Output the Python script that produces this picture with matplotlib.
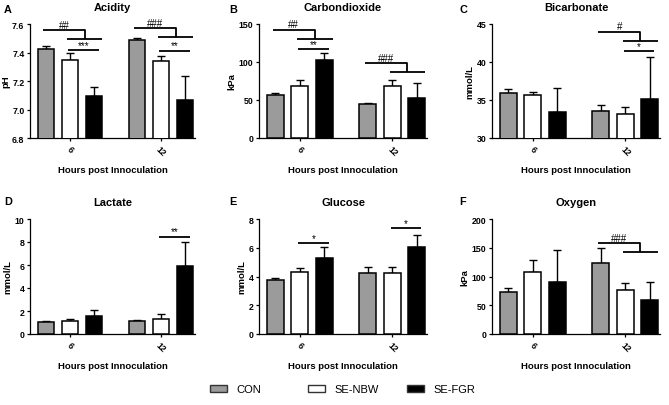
import matplotlib
matplotlib.use("Agg")
import numpy as np
import matplotlib.pyplot as plt
from matplotlib.patches import Patch

plt.rcParams["font.family"] = ["Liberation Sans", "DejaVu Sans"]

# ==============================
# DATA
# ==============================

hours = ["6", "12"]
groups = ["CON", "SE-NBW", "SE-FGR"]
colors = ["#9b9b9b", "#ffffff", "#000000"]

panels = ["A", "B", "C", "D", "E", "F"]
titles = ["Acidity", "Carbondioxide", "Bicarbonate", "Lactate", "Glucose", "Oxygen"]
ylabels = ["pH", "kPa", "mmol/L", "mmol/L", "mmol/L", "kPa"]
yticks = [
    [6.8, 7.0, 7.2, 7.4, 7.6],
    [0, 50, 100, 150],
    [30, 35, 40, 45],
    [0, 2, 4, 6, 8, 10],
    [0, 2, 4, 6, 8],
    [0, 50, 100, 150, 200],
]

# means per panel: rows = hours (6, 12), cols = groups
acidity_mean = [[7.425, 7.35, 7.092], [7.49, 7.338, 7.069]]
acidity_sem = [[0.023, 0.044, 0.064], [0.014, 0.040, 0.164]]
co2_mean = [[56, 69, 102.5], [44.5, 69, 52.5]]
co2_sem = [[3.5, 7, 9], [1.3, 7.5, 19.5]]
bicarb_mean = [[35.9, 35.6, 33.4], [33.5, 33.2, 35.1]]
bicarb_sem = [[0.5, 0.5, 3.2], [0.8, 0.9, 5.6]]
lactate_mean = [[1.07, 1.16, 1.6], [1.16, 1.30, 5.94]]
lactate_sem = [[0.09, 0.12, 0.5], [0.09, 0.44, 2.1]]
glucose_mean = [[3.76, 4.29, 5.29], [4.27, 4.27, 6.03]]
glucose_sem = [[0.16, 0.30, 0.74], [0.39, 0.42, 0.88]]
oxygen_mean = [[72.5, 107, 91], [123, 76, 60]]
oxygen_sem = [[8, 22, 55], [26, 12, 30]]

means = [acidity_mean, co2_mean, bicarb_mean, lactate_mean, glucose_mean, oxygen_mean]
sems = [acidity_sem, co2_sem, bicarb_sem, lactate_sem, glucose_sem, oxygen_sem]

# CON vs infected brackets: (panel, hour index, label, top height, lower height)
hash_marks = [
    (0, 0, "##", 7.558, 7.495),
    (0, 1, "###", 7.57, 7.511),
    (1, 0, "##", 142.5, 130),
    (1, 1, "###", 98.2, 86.4),
    (2, 1, "#", 44.0, 42.8),
    (5, 1, "###", 157.7, 143),
]
# SE-NBW vs SE-FGR lines: (panel, hour index, label, height)
star_marks = [
    (0, 0, "***", 7.417),
    (0, 1, "**", 7.413),
    (1, 0, "**", 117),
    (2, 1, "*", 41.4),
    (3, 1, "**", 8.46),
    (4, 0, "*", 6.33),
    (4, 1, "*", 7.35),
]

# ==============================
# LAYOUT
# ==============================

W, H = 669, 406
col_x = [30, 259, 492]
col_w = [165, 168, 168]
row_y = [(25, 139), (220, 335)]
letter_x = [8, 233, 463]
letter_y = [10, 202]

step = 0.264
bar_w = 0.185
offsets = [-step, 0, step]

fig = plt.figure(figsize=(W / 100, H / 100), dpi=100)
axes = []
for i in range(6):
    r, c = divmod(i, 3)
    top, bot = row_y[r]
    ax = fig.add_axes([col_x[c] / W, 1 - bot / H, col_w[c] / W, (bot - top) / H])
    axes.append(ax)
    fig.text(letter_x[c] / W, 1 - letter_y[r] / H, panels[i], fontsize=7.8,
             fontweight="bold", ha="center", va="center")

for i, ax in enumerate(axes):
    m = np.array(means[i])
    s = np.array(sems[i])
    for g in range(3):
        xs = np.arange(2) + offsets[g]
        ax.errorbar(xs, m[:, g], yerr=[np.zeros(2), s[:, g]], fmt="none",
                    ecolor="black", elinewidth=1.0, capsize=2.8, capthick=1.0, zorder=2)
        ax.bar(xs, m[:, g], width=bar_w, color=colors[g], edgecolor="black",
               linewidth=1.1, zorder=3)

    yt = yticks[i]
    ax.set_ylim(yt[0], yt[-1])
    ax.set_yticks(yt)
    if i == 0:
        ax.set_yticklabels(["%.1f" % v for v in yt])
    ax.set_xlim(-0.44, 1.374)
    ax.set_xticks([0, 1])
    ax.set_xticklabels(hours, rotation=-45, ha="center", va="top")
    for sp in ["top", "right"]:
        ax.spines[sp].set_visible(False)
    for sp in ["left", "bottom"]:
        ax.spines[sp].set_linewidth(0.9)
    ax.tick_params(length=2.5, width=0.9, labelsize=6.3, pad=1.5)
    for lab in ax.get_xticklabels() + ax.get_yticklabels():
        lab.set_fontweight("bold")
    ax.set_ylabel(ylabels[i], fontsize=6.8, fontweight="bold", labelpad=1.5)
    ax.set_xlabel("Hours post Innoculation", fontsize=6.8, fontweight="bold", labelpad=6)
    ax.set_title(titles[i], fontsize=8, fontweight="bold", pad=10)

# significance brackets
for p, h, label, y_top, y_low in hash_marks:
    ax = axes[p]
    xa = h + offsets[1] - 0.03
    xb = h + offsets[2] + 0.09
    xm = (xa + xb) / 2
    x0 = h + offsets[0] - 0.03
    ax.plot([x0, xm, xm], [y_top, y_top, y_low], color="black", lw=1.3,
            solid_capstyle="butt", clip_on=False, zorder=4)
    ax.plot([xa, xb], [y_low, y_low], color="black", lw=1.3,
            solid_capstyle="butt", clip_on=False, zorder=4)
    ax.annotate(label, ((x0 + xm) / 2, y_top), xytext=(0, 0.2), textcoords="offset points",
                ha="center", va="bottom", fontsize=7, annotation_clip=False)

for p, h, label, y in star_marks:
    ax = axes[p]
    xa = h + offsets[1] - 0.02
    xb = h + offsets[2] + 0.05
    ax.plot([xa, xb], [y, y], color="black", lw=1.3, solid_capstyle="butt",
            clip_on=False, zorder=4)
    ax.annotate(label, ((xa + xb) / 2, y), xytext=(0, 0.2), textcoords="offset points",
                ha="center", va="bottom", fontsize=7, annotation_clip=False)

# legend, one entry per slot
legend_x = [210, 308, 407]
for g in range(3):
    handle = Patch(facecolor=colors[g], edgecolor="#333333", linewidth=1.0)
    fig.legend([handle], [groups[g]], loc="center left",
               bbox_to_anchor=(legend_x[g] / W, 1 - 390 / H), frameon=False,
               borderpad=0, borderaxespad=0, handlelength=1.5, handleheight=0.6,
               handletextpad=0.9, fontsize=8)

fig.savefig("out.png", dpi=100)
